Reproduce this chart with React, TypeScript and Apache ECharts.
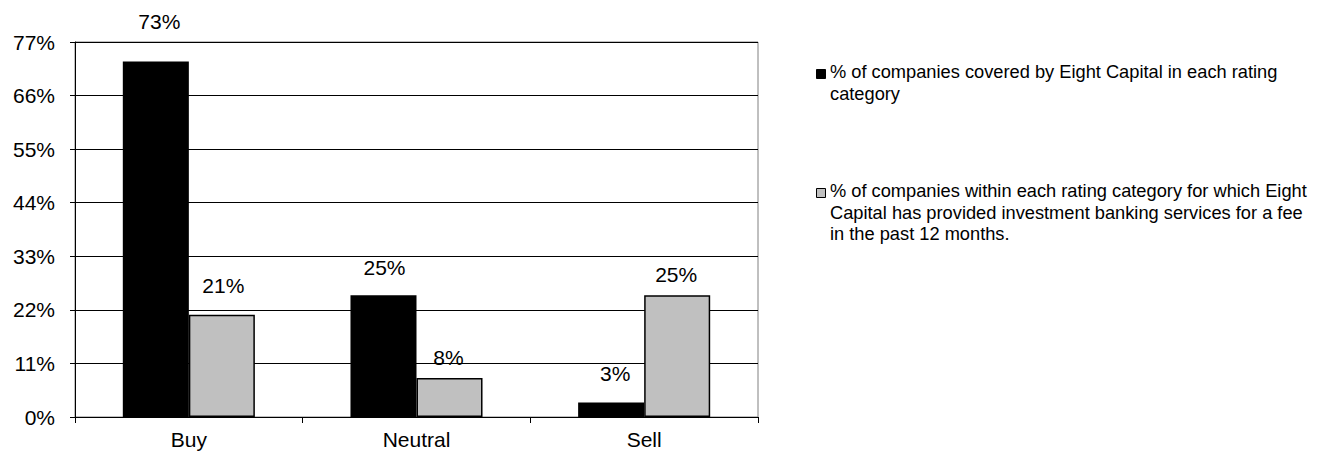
import React, { useEffect, useRef } from "react";
import * as echarts from "echarts";

const categories = ["Buy", "Neutral", "Sell"];
const coveredValues = [73, 25, 3];
const bankingValues = [21, 8, 25];
const seriesNames = [
  "% of companies covered by Eight Capital in each rating category",
  "% of companies within each rating category for which Eight Capital has provided investment banking services for a fee in the past 12 months.",
];
const legendLines = [
  ["% of companies covered by Eight Capital in each rating", "category"],
  [
    "% of companies within each rating category for which Eight",
    "Capital has provided investment banking services for a fee",
    "in the past 12 months.",
  ],
];
const yMax = 77;
const yInterval = 11;

// label nudges (styling only)
const coveredLabelOffsets = [[3.5, -29.5], [1, -17.5], [4, -18]];
const bankingLabelOffsets = [[1.5, -19], [-1, -10], [-1, -10]];

const FONT = "'Liberation Sans', Arial, Helvetica, sans-serif";

export default function App() {
  const ref = useRef<HTMLDivElement>(null);
  useEffect(() => {
    if (!ref.current) return;
    const chart = echarts.init(ref.current, undefined, { renderer: "svg" });
    const labelBase = {
      show: true,
      position: "top",
      distance: 0,
      color: "#000",
      fontSize: 21,
      fontFamily: FONT,
      formatter: (p: any) => p.value + "%",
    };
    const legendGraphic: any[] = [];
    const legendTops = [61, 180];
    const legendColors = ["#000000", "#C0C0C0"];
    legendLines.forEach((lines, i) => {
      legendGraphic.push({
        type: "rect",
        shape: { x: 816.5, y: legendTops[i] + 8.5, width: 9, height: 9 },
        style: { fill: legendColors[i], stroke: "#000", lineWidth: 1 },
      });
      legendGraphic.push({
        type: "text",
        x: 830,
        y: legendTops[i],
        style: {
          text: lines.join("\n"),
          font: `18.25px ${FONT}`,
          fill: "#000",
          lineHeight: 21.5,
          verticalAlign: "top",
          align: "left",
        },
      });
    });
    chart.setOption({
      animation: false,
      textStyle: { fontFamily: FONT },
      grid: {
        left: 75,
        right: 564,
        top: 42,
        bottom: 35,
        show: true,
        borderColor: "#808080",
        borderWidth: 1,
        backgroundColor: "transparent",
      },
      xAxis: {
        type: "category",
        data: categories,
        axisLine: { show: true, lineStyle: { color: "#000", width: 1 } },
        axisTick: { show: true, length: 6, lineStyle: { color: "#000" } },
        axisLabel: { color: "#000", fontSize: 21, fontFamily: FONT, margin: 12 },
      },
      yAxis: {
        type: "value",
        min: 0,
        max: yMax,
        interval: yInterval,
        axisLine: { show: true, lineStyle: { color: "#000", width: 1 } },
        axisTick: { show: true, length: 5, lineStyle: { color: "#000" } },
        axisLabel: {
          color: "#000",
          fontSize: 21,
          fontFamily: FONT,
          margin: 20,
          formatter: "{value}%",
        },
        splitLine: { show: true, lineStyle: { color: "#000", width: 1 } },
      },
      series: [
        {
          name: seriesNames[0],
          type: "bar",
          barGap: "0%",
          barCategoryGap: "42%",
          itemStyle: { color: "#000000", borderColor: "#000", borderWidth: 1.5 },
          label: labelBase,
          data: coveredValues.map((v, i) => ({
            value: v,
            label: { offset: coveredLabelOffsets[i] },
          })),
        },
        {
          name: seriesNames[1],
          type: "bar",
          barGap: "0%",
          barCategoryGap: "42%",
          itemStyle: { color: "#C0C0C0", borderColor: "#000", borderWidth: 1.5 },
          label: labelBase,
          data: bankingValues.map((v, i) => ({
            value: v,
            label: { offset: bankingLabelOffsets[i] },
          })),
        },
      ],
      graphic: legendGraphic,
    });
    return () => chart.dispose();
  }, []);
  return (
    <div
      ref={ref}
      style={{ position: "fixed", left: 0, top: 0, width: 1322, height: 452, background: "#fff" }}
    />
  );
}
